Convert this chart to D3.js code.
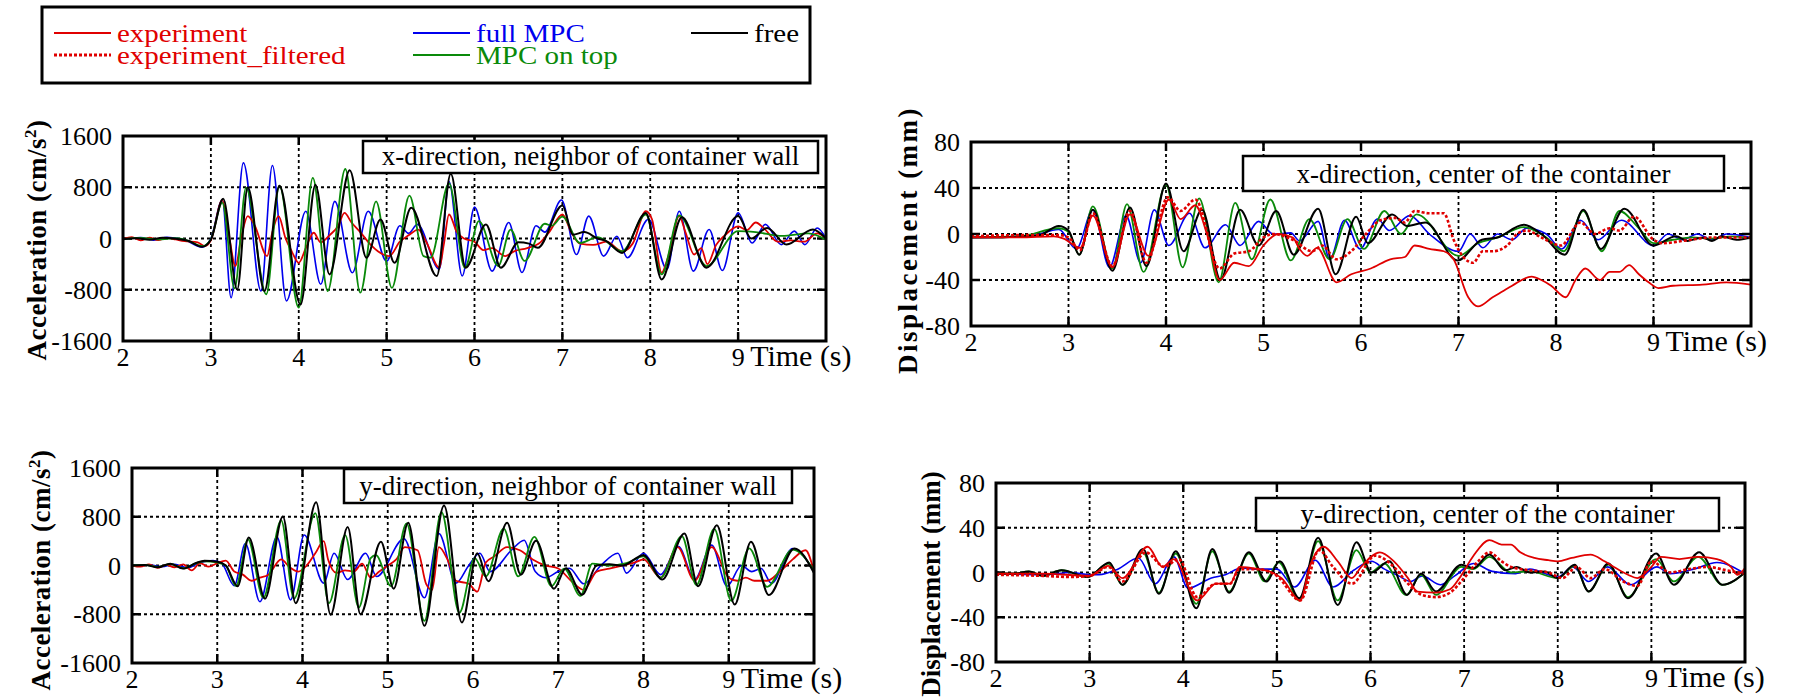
<!doctype html>
<html>
<head>
<meta charset="utf-8">
<script src="https://d3js.org/d3.v7.min.js"></script>
<style>
  body { margin: 0; background: #fff; }
  text { font-family: "Liberation Serif", "Times New Roman", serif; }
</style>
</head>
<body>
<svg width="1793" height="698"></svg>
<script>
// ---- tick labels ----
var timeTicks = [2, 3, 4, 5, 6, 7, 8, 9];
var accTicks = [-1600, -800, 0, 800, 1600];
var dispTicks = [-80, -40, 0, 40, 80];

// ---- x-direction acceleration, neighbor of wall (cm/s2) ----
var ax_experiment = [[2.0,-10],[2.1,20],[2.2,-30],[2.3,15],[2.4,-25],[2.5,10],[2.6,-15],[2.7,-40],[2.85,-60],[2.93,-120],[3.0,-30],[3.13,600],[3.2,100],[3.28,-430],[3.35,50],[3.42,350],[3.5,200],[3.64,-275],[3.7,100],[3.77,350],[3.85,0],[3.92,-200],[4.0,-380],[4.08,-150],[4.17,90],[4.25,-60],[4.35,50],[4.45,200],[4.52,400],[4.6,250],[4.7,100],[4.82,-100],[4.9,-200],[5.03,-275],[5.15,-50],[5.25,50],[5.36,140],[5.45,-50],[5.6,-455],[5.65,-100],[5.71,375],[5.8,100],[5.88,0],[6.0,-50],[6.1,-180],[6.2,-150],[6.35,-275],[6.45,-200],[6.6,-150],[6.75,-60],[6.85,100],[7.0,375],[7.1,100],[7.2,-80],[7.35,-100],[7.5,-50],[7.68,-200],[7.8,-80],[7.95,425],[8.02,300],[8.13,-535],[8.2,-300],[8.33,350],[8.4,100],[8.5,-250],[8.58,-150],[8.65,-400],[8.75,-100],[8.85,50],[9.0,190],[9.1,130],[9.2,250],[9.3,150],[9.45,-50],[9.6,-30],[9.75,-50],[9.9,80],[10,0]];
var ax_fullmpc = [[2.0,-10],[2.2,15],[2.35,-25],[2.5,20],[2.7,-20],[2.9,-135],[3.0,0],[3.13,600],[3.23,-925],[3.37,1180],[3.57,-820],[3.70,1140],[3.86,-975],[4.08,425],[4.25,-715],[4.41,580],[4.61,-535],[4.79,425],[5.0,-355],[5.15,200],[5.25,80],[5.35,220],[5.6,-480],[5.71,890],[5.86,-585],[6.0,490],[6.2,-510],[6.39,250],[6.54,-530],[6.7,200],[6.8,100],[6.99,600],[7.16,-250],[7.3,350],[7.47,-275],[7.62,35],[7.74,-300],[7.98,300],[8.19,-480],[8.33,425],[8.49,-510],[8.67,140],[8.82,-500],[9.0,400],[9.16,-70],[9.31,220],[9.49,-95],[9.64,115],[9.76,-95],[9.9,165],[10,0]];
var ax_mpctop = [[2.0,-10],[2.2,10],[2.4,-15],[2.6,5],[2.75,-40],[2.9,-120],[3.0,-10],[3.13,560],[3.27,-780],[3.40,790],[3.63,-870],[3.78,820],[4.0,-1080],[4.16,945],[4.33,-820],[4.53,1085],[4.70,-845],[4.88,580],[5.06,-770],[5.26,670],[5.42,-275],[5.5,-300],[5.71,860],[5.89,-455],[6.05,270],[6.27,-430],[6.41,140],[6.57,-350],[6.8,230],[6.88,200],[7.0,340],[7.2,-70],[7.4,20],[7.68,-200],[7.95,375],[8.13,-560],[8.33,360],[8.64,-430],[9.0,115],[9.2,100],[9.5,40],[9.8,80],[10,-20]];
var ax_free = [[2.0,-10],[2.15,5],[2.3,-20],[2.45,10],[2.6,-5],[2.75,-40],[2.9,-130],[3.0,-20],[3.14,620],[3.30,-795],[3.42,800],[3.61,-820],[3.78,825],[4.02,-1030],[4.19,840],[4.35,-560],[4.58,1065],[4.77,-300],[4.93,295],[5.09,-380],[5.28,480],[5.57,-585],[5.73,1010],[5.90,-455],[6.13,220],[6.30,-455],[6.50,-60],[6.62,-80],[6.72,-145],[7.0,515],[7.12,60],[7.25,100],[7.4,0],[7.5,-40],[7.68,-225],[7.95,400],[8.13,-640],[8.36,330],[8.64,-455],[9.0,350],[9.15,0],[9.33,165],[9.55,-95],[9.85,140],[10,0]];

// ---- x-direction displacement, center (mm) ----
var dx_experiment = [[2.0,-3],[2.5,-3],[2.85,-2],[2.95,-4],[3.12,-12],[3.25,16],[3.45,-29],[3.63,17],[3.82,-19],[4.03,30],[4.15,13],[4.3,25],[4.42,0],[4.55,-40],[4.7,-25],[4.85,-28],[5.0,-10],[5.15,0],[5.3,-3],[5.37,-13],[5.45,-19],[5.55,-12],[5.75,-42],[5.9,-35],[6.1,-30],[6.3,-22],[6.45,-20],[6.55,-10],[6.7,-13],[6.85,-15],[6.95,-22],[7.1,-55],[7.2,-63],[7.35,-55],[7.45,-50],[7.55,-45],[7.75,-37],[7.85,-40],[7.95,-45],[8.1,-55],[8.2,-40],[8.3,-30],[8.45,-40],[8.55,-33],[8.65,-33],[8.75,-27],[8.85,-35],[8.95,-42],[9.05,-47],[9.2,-45],[9.5,-44],[9.75,-42],[10,-44]];
var dx_filtered = [[2.0,-2],[2.5,-1],[2.9,-1],[3.0,-3],[3.12,-14],[3.25,18],[3.45,-28],[3.63,20],[3.8,-25],[4.02,32],[4.15,20],[4.3,30],[4.55,-30],[4.7,-17],[4.85,-15],[5.0,-3],[5.1,0],[5.3,-5],[5.5,-15],[5.6,-10],[5.75,-22],[5.9,-15],[6.05,0],[6.2,12],[6.35,14],[6.45,10],[6.55,20],[6.7,18],[6.85,18],[6.95,-5],[7.05,-20],[7.15,-25],[7.25,-15],[7.35,-15],[7.5,-10],[7.6,0],[7.7,3],[7.85,-3],[8.05,-10],[8.25,10],[8.4,0],[8.55,5],[8.65,3],[8.8,15],[9.0,-5],[9.1,-8],[9.3,-6],[9.6,-3],[10,-3]];
var dx_fullmpc = [[2.0,-3],[2.6,-2],[2.9,4],[3.08,-13],[3.25,21],[3.42,-29],[3.59,16],[3.74,-25],[3.88,21],[4.03,-10],[4.24,18],[4.4,-12],[4.61,8],[4.76,-10],[4.95,11],[5.1,0],[5.28,1],[5.37,-6],[5.56,11],[5.68,-22],[5.83,12],[5.99,-13],[6.17,13],[6.29,3],[6.5,16],[6.7,0],[7.0,-15],[7.12,0],[7.25,-12],[7.4,0],[7.55,-5],[7.7,5],[7.9,0],[8.06,-13],[8.25,12],[8.43,-5],[8.67,12],[9.0,-10],[9.15,0],[9.3,-5],[9.45,0],[9.6,-5],[9.75,0],[10,-3]];
var dx_mpctop = [[2.0,-3],[2.5,-2],[2.9,5],[3.0,2],[3.11,-18],[3.25,24],[3.45,-30],[3.6,26],[3.77,-33],[4.0,43],[4.17,-29],[4.34,31],[4.54,-42],[4.71,27],[4.88,-22],[5.07,30],[5.28,-23],[5.47,13],[5.68,-22],[5.86,13],[6.03,-13],[6.24,20],[6.41,0],[6.57,17],[7.0,-19],[7.2,-8],[7.4,-3],[7.67,6],[7.9,-3],[8.08,-15],[8.28,20],[8.47,-15],[8.65,20],[8.85,5],[9.0,-8],[9.2,-5],[9.4,-3],[9.6,-4],[9.8,-2],[10,-4]];
var dx_free = [[2.0,-3],[2.3,-3],[2.5,-2],[2.7,-1],[2.9,7],[3.0,3],[3.11,-18],[3.25,21],[3.45,-32],[3.63,23],[3.80,-28],[4.0,44],[4.18,-15],[4.37,21],[4.56,-40],[4.76,21],[4.95,-10],[5.13,20],[5.31,-18],[5.56,22],[5.74,-35],[5.95,15],[6.07,-8],[6.32,17],[6.47,7],[6.66,10],[6.99,-23],[7.24,-5],[7.4,-3],[7.67,8],[7.85,0],[8.09,-18],[8.28,21],[8.46,-13],[8.7,22],[9.0,-10],[9.23,-2],[9.35,-6],[9.5,-3],[9.6,-6],[9.7,-2],[9.85,-5],[10,-3]];

// ---- y-direction acceleration, neighbor of wall (cm/s2) ----
var ay_experiment = [[2.0,0],[2.1,-20],[2.2,20],[2.3,-40],[2.4,10],[2.5,-30],[2.6,20],[2.7,-80],[2.8,40],[2.9,-20],[3.0,40],[3.1,80],[3.2,-100],[3.3,-150],[3.4,-250],[3.5,-200],[3.6,-150],[3.75,100],[3.85,-30],[3.95,-100],[4.05,0],[4.15,200],[4.25,400],[4.3,100],[4.4,-120],[4.5,-80],[4.6,-100],[4.7,30],[4.8,-200],[4.9,-100],[5.0,0],[5.1,100],[5.2,300],[5.35,250],[5.45,-300],[5.52,-400],[5.6,300],[5.7,100],[5.8,-250],[5.95,-300],[6.05,-430],[6.15,50],[6.25,150],[6.4,300],[6.55,250],[6.7,100],[6.85,0],[7.0,-50],[7.15,-250],[7.3,-400],[7.45,-100],[7.6,-50],[7.75,0],[7.9,50],[8.0,100],[8.2,-200],[8.4,300],[8.6,-250],[8.8,300],[9.0,-200],[9.1,-250],[9.2,-200],[9.3,-250],[9.45,-250],[9.6,-100],[9.75,100],[9.9,250],[10,-100]];
var ay_fullmpc = [[2.0,0],[2.2,10],[2.35,-20],[2.5,20],[2.65,-40],[2.8,50],[2.95,80],[3.05,40],[3.2,-330],[3.33,360],[3.5,-595],[3.7,470],[3.86,-565],[4.02,500],[4.25,-290],[4.37,200],[4.53,-230],[4.74,200],[4.87,-180],[5.19,440],[5.43,-530],[5.6,525],[5.8,-290],[5.95,0],[6.08,200],[6.2,-100],[6.45,250],[6.6,415],[6.73,-100],[6.85,-200],[7.0,-100],[7.13,-45],[7.3,-300],[7.5,0],[7.7,200],[7.8,-125],[8.0,200],[8.2,-150],[8.41,310],[8.6,-230],[8.8,335],[8.98,-340],[9.15,0],[9.27,-100],[9.38,-50],[9.5,-290],[9.75,280],[10,-100]];
var ay_mpctop = [[2.0,0],[2.15,10],[2.3,-25],[2.45,25],[2.6,-45],[2.75,35],[2.85,70],[3.0,50],[3.1,0],[3.22,-340],[3.36,430],[3.54,-530],[3.75,740],[3.9,-545],[4.15,860],[4.31,-620],[4.5,500],[4.66,-690],[4.8,120],[4.86,170],[5.04,-340],[5.22,690],[5.43,-910],[5.63,875],[5.84,-775],[6.02,120],[6.15,-180],[6.36,605],[6.53,-180],[6.72,470],[6.92,-340],[7.07,-50],[7.26,-500],[7.4,30],[7.6,0],[7.8,40],[8.0,150],[8.2,-200],[8.45,480],[8.62,-320],[8.83,600],[9.03,-580],[9.24,280],[9.45,-350],[9.75,260],[10,-80]];
var ay_free = [[2.0,0],[2.15,10],[2.3,-30],[2.45,30],[2.6,-50],[2.75,40],[2.85,80],[3.0,60],[3.1,0],[3.24,-340],[3.37,460],[3.56,-545],[3.77,805],[3.92,-620],[4.16,1040],[4.33,-810],[4.53,630],[4.68,-800],[4.92,390],[5.07,-380],[5.24,700],[5.43,-990],[5.66,985],[5.87,-935],[6.05,200],[6.18,-260],[6.40,700],[6.56,-150],[6.74,405],[6.95,-380],[7.09,-45],[7.28,-480],[7.45,0],[7.6,20],[7.75,0],[8.0,170],[8.22,-230],[8.48,525],[8.64,-340],[8.86,660],[9.07,-640],[9.26,390],[9.47,-485],[9.77,280],[10,-125]];

// ---- y-direction displacement, center (mm) ----
var dy_experiment = [[2.0,-1],[2.5,-1],[3.0,-3],[3.2,6],[3.35,-5],[3.62,23],[3.78,5],[3.9,12],[4.15,-25],[4.35,-10],[4.5,-10],[4.6,5],[4.8,3],[4.95,0],[5.05,-5],[5.25,-25],[5.35,5],[5.5,23],[5.65,10],[5.8,-5],[5.9,5],[6.1,18],[6.25,10],[6.4,-5],[6.5,-17],[6.7,-18],[6.85,-15],[6.95,-5],[7.1,15],[7.27,29],[7.4,25],[7.5,25],[7.6,18],[7.75,13],[7.9,11],[8.0,10],[8.15,13],[8.35,16],[8.5,10],[8.6,5],[8.75,-2],[8.85,-5],[9.0,5],[9.1,14],[9.3,12],[9.5,14],[9.7,12],[9.85,5],[9.92,-2],[10,4]];
var dy_filtered = [[2.0,-2],[2.5,-3],[2.8,-4],[3.0,-3],[3.2,5],[3.35,-8],[3.6,18],[3.8,5],[3.95,12],[4.15,-22],[4.35,-10],[4.5,-10],[4.6,3],[4.8,3],[5.0,-3],[5.25,-25],[5.45,20],[5.6,5],[5.8,-10],[6.05,15],[6.25,5],[6.4,-10],[6.55,-20],[6.7,-22],[6.85,-18],[7.0,-5],[7.15,10],[7.27,18],[7.4,10],[7.5,5],[7.7,2],[7.9,0],[8.05,-5],[8.2,5],[8.35,-5],[8.5,3],[8.7,-8],[8.85,-12],[9.0,10],[9.2,0],[9.4,3],[9.6,5],[9.8,2],[10,-1]];
var dy_fullmpc = [[2.0,-1],[2.5,-2],[2.8,0],[3.0,-2],[3.1,-2],[3.3,3],[3.52,13],[3.7,-10],[3.9,14],[4.05,-14],[4.3,-5],[4.45,-2],[4.62,4],[4.8,3],[5.0,3],[5.19,-13],[5.41,11],[5.6,-13],[5.82,2],[6.01,10],[6.15,3],[6.3,-3],[6.43,-8],[6.55,-3],[6.75,-11],[6.9,-3],[7.1,8],[7.3,1],[7.55,-1],[7.7,3],[8.0,-4],[8.16,5],[8.33,-8],[8.53,5],[8.78,-11],[9.06,5],[9.2,-1],[9.45,3],[9.7,9],[10,-1]];
var dy_mpctop = [[2.0,-1],[2.2,-1],[2.35,1],[2.5,-3],[2.7,2],[2.98,-4],[3.2,8],[3.35,-11],[3.57,18],[3.74,-18],[3.92,17],[4.14,-28],[4.31,19],[4.49,-17],[4.70,17],[4.87,-8],[5.02,9],[5.24,-25],[5.44,28],[5.65,-25],[5.85,20],[6.0,0],[6.15,8],[6.38,-20],[6.54,-2],[6.7,-20],[6.97,5],[7.1,3],[7.27,14],[7.5,0],[7.7,1],[8.0,-5],[8.18,6],[8.33,-17],[8.54,7],[8.75,-22],[9.05,12],[9.24,-8],[9.5,14],[9.76,-11],[10,0]];
var dy_free = [[2.0,-1],[2.2,-1],[2.35,1],[2.5,-3],[2.7,2],[2.98,-4],[3.21,9],[3.35,-11],[3.57,21],[3.74,-19],[3.92,19],[4.14,-32],[4.31,21],[4.49,-18],[4.70,18],[4.89,-8],[5.03,10],[5.24,-23],[5.44,31],[5.65,-29],[5.85,27],[6.01,0],[6.2,10],[6.39,-20],[6.54,-1],[6.7,-17],[6.97,7],[7.1,4],[7.27,16],[7.44,2],[7.56,5],[7.7,0],[7.86,1],[8.0,-5],[8.18,7],[8.33,-17],[8.54,8],[8.75,-23],[9.05,17],[9.24,-11],[9.51,18],[9.76,-11],[10,0]];

var RED = "#e00000", BLUE = "#0000ee", GREEN = "#0a8a0a", BLACK = "#000";

var svg = d3.select("svg");

// styles per series
var styles = {
    filtered:   {color: RED,   width: 2.6, dash: "3,2"},
    experiment: {color: RED,   width: 1.8, dash: null},
    fullmpc:    {color: BLUE,  width: 1.6, dash: null},
    mpctop:     {color: GREEN, width: 1.8, dash: null},
    free:       {color: BLACK, width: 2.0, dash: null}
};

var panels = [
    {left: 123, top: 136, right: 826, bottom: 341, domain: [-1600, 1600], ticks: accTicks,
     ylab: "acc", ylx: 46, ylc: 240, yls: 0.5, note: "x-direction, neighbor of container wall", nb: [363, 141, 818, 173],
     series: [["fullmpc", ax_fullmpc], ["experiment", ax_experiment], ["mpctop", ax_mpctop], ["free", ax_free]]},
    {left: 971, top: 142, right: 1751, bottom: 326, domain: [-80, 80], ticks: dispTicks,
     ylab: "disp", ylx: 917, ylc: 240, yls: 2.5, note: "x-direction, center of the container", nb: [1243, 156, 1724, 191],
     series: [["fullmpc", dx_fullmpc], ["mpctop", dx_mpctop], ["free", dx_free], ["filtered", dx_filtered], ["experiment", dx_experiment]]},
    {left: 132, top: 468, right: 814, bottom: 663, domain: [-1600, 1600], ticks: accTicks,
     ylab: "acc", ylx: 50, ylc: 570, yls: 0.5, note: "y-direction, neighbor of container wall", nb: [344, 469, 792, 503],
     series: [["fullmpc", ay_fullmpc], ["experiment", ay_experiment], ["mpctop", ay_mpctop], ["free", ay_free]]},
    {left: 996, top: 483, right: 1745, bottom: 662, domain: [-80, 80], ticks: dispTicks,
     ylab: "disp", ylx: 940, ylc: 584, yls: 0, note: "y-direction, center of the container", nb: [1256, 498, 1719, 531],
     series: [["fullmpc", dy_fullmpc], ["mpctop", dy_mpctop], ["free", dy_free], ["filtered", dy_filtered], ["experiment", dy_experiment]]}
];

panels.forEach(function(p, i) {
    var x = d3.scaleLinear().domain([2, 10]).range([p.left, p.right]);
    var y = d3.scaleLinear().domain(p.domain).range([p.bottom, p.top]);
    var g = svg.append("g");

    svg.append("clipPath").attr("id", "clip" + i)
       .append("rect")
       .attr("x", p.left).attr("y", p.top)
       .attr("width", p.right - p.left).attr("height", p.bottom - p.top);

    // dotted grid
    g.selectAll(".vg").data(timeTicks.slice(1)).enter().append("line")
     .attr("x1", d => x(d)).attr("x2", d => x(d))
     .attr("y1", p.top).attr("y2", p.bottom)
     .attr("stroke", "#000").attr("stroke-width", 1.8).attr("stroke-dasharray", "3,3");
    var inner = p.ticks.slice(1, -1);
    g.selectAll(".hg").data(inner).enter().append("line")
     .attr("x1", p.left).attr("x2", p.right)
     .attr("y1", d => y(d)).attr("y2", d => y(d))
     .attr("stroke", "#000").attr("stroke-width", 1.8).attr("stroke-dasharray", "3,3");

    // solid inner ticks
    timeTicks.slice(1).forEach(function(t) {
        g.append("line").attr("x1", x(t)).attr("x2", x(t)).attr("y1", p.top).attr("y2", p.top + 9)
         .attr("stroke", "#000").attr("stroke-width", 2.5);
        g.append("line").attr("x1", x(t)).attr("x2", x(t)).attr("y1", p.bottom).attr("y2", p.bottom - 9)
         .attr("stroke", "#000").attr("stroke-width", 2.5);
    });
    inner.forEach(function(v) {
        g.append("line").attr("x1", p.left).attr("x2", p.left + 9).attr("y1", y(v)).attr("y2", y(v))
         .attr("stroke", "#000").attr("stroke-width", 2.5);
        g.append("line").attr("x1", p.right).attr("x2", p.right - 9).attr("y1", y(v)).attr("y2", y(v))
         .attr("stroke", "#000").attr("stroke-width", 2.5);
    });

    // series
    var line = d3.line().x(d => x(d[0])).y(d => y(d[1])).curve(d3.curveMonotoneX);
    var lg = g.append("g").attr("clip-path", "url(#clip" + i + ")");
    p.series.forEach(function(s) {
        var st = styles[s[0]];
        lg.append("path").datum(s[1])
          .attr("d", line)
          .attr("fill", "none")
          .attr("stroke", st.color)
          .attr("stroke-width", st.width)
          .attr("stroke-linejoin", "round")
          .attr("stroke-dasharray", st.dash);
    });

    // frame
    g.append("rect")
     .attr("x", p.left).attr("y", p.top)
     .attr("width", p.right - p.left).attr("height", p.bottom - p.top)
     .attr("fill", "none").attr("stroke", "#000").attr("stroke-width", 3);

    // y tick labels
    g.selectAll(".yl").data(p.ticks).enter().append("text")
     .attr("x", p.left - 11).attr("y", d => y(d)).attr("dy", "0.35em")
     .attr("text-anchor", "end").attr("font-size", "26px")
     .text(d => d);

    // x tick labels
    g.selectAll(".xl").data(timeTicks).enter().append("text")
     .attr("x", d => x(d)).attr("y", p.bottom + 25)
     .attr("text-anchor", "middle").attr("font-size", "26px")
     .text(d => d);
    g.append("text")
     .attr("x", x(9) + 12).attr("y", p.bottom + 25)
     .attr("font-size", "30px")
     .text("Time (s)");

    // y axis title
    var yt = g.append("text")
     .attr("transform", "translate(" + p.ylx + "," + p.ylc + ") rotate(-90)")
     .attr("text-anchor", "middle").attr("font-size", "27px").attr("font-weight", "bold")
     .attr("letter-spacing", p.yls + "px");
    if (p.ylab === "acc") {
        yt.append("tspan").text("Acceleration (cm/s");
        yt.append("tspan").attr("font-size", "17px").attr("dy", "-10").text("2");
        yt.append("tspan").attr("dy", "10").text(")");
    } else {
        yt.text("Displacement (mm)");
    }

    // annotation box
    g.append("rect")
     .attr("x", p.nb[0]).attr("y", p.nb[1])
     .attr("width", p.nb[2] - p.nb[0]).attr("height", p.nb[3] - p.nb[1])
     .attr("fill", "#fff").attr("stroke", "#000").attr("stroke-width", 2.5);
    g.append("text")
     .attr("x", (p.nb[0] + p.nb[2]) / 2).attr("y", p.nb[3] - 8)
     .attr("text-anchor", "middle").attr("font-size", "27px")
     .text(p.note);
});

// legend
var legendItems = [
    {label: "experiment", key: "experiment", x: 54, y: 33},
    {label: "experiment_filtered", key: "filtered", x: 54, y: 55},
    {label: "full MPC", key: "fullmpc", x: 413, y: 33},
    {label: "MPC on top", key: "mpctop", x: 413, y: 55},
    {label: "free", key: "free", x: 691, y: 33}
];
var lgd = svg.append("g");
lgd.append("rect").attr("x", 42).attr("y", 7).attr("width", 768).attr("height", 76)
   .attr("fill", "#fff").attr("stroke", "#000").attr("stroke-width", 3);
legendItems.forEach(function(it) {
    var st = styles[it.key];
    lgd.append("line").attr("x1", it.x).attr("x2", it.x + 57).attr("y1", it.y).attr("y2", it.y)
       .attr("stroke", st.color).attr("stroke-width", it.key === "filtered" ? 3 : 2)
       .attr("stroke-dasharray", st.dash);
    // slightly condensed in height, as in the original
    lgd.append("text")
       .attr("transform", "translate(" + (it.x + 63) + "," + (it.y + 9) + ") scale(1.16,1)")
       .attr("font-size", "25px").attr("fill", st.color)
       .text(it.label);
});
</script>
</body>
</html>
